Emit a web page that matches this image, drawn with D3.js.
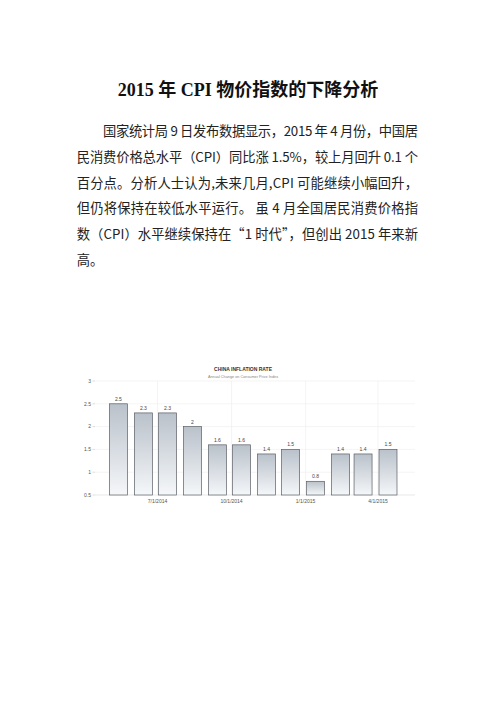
<!DOCTYPE html>
<html><head><meta charset="utf-8">
<script src="https://cdn.jsdelivr.net/npm/d3@7"></script>
<style>html,body{margin:0;padding:0;background:#fff;}svg{display:block;}</style>
</head><body>
<script>
const pageTitle = "2015 年 CPI 物价指数的下降分析";
const paragraphLines = [
  "国家统计局 9 日发布数据显示，2015 年 4 月份，中国居",
  "民消费价格总水平（CPI）同比涨 1.5%，较上月回升 0.1 个",
  "百分点。分析人士认为,未来几月,CPI 可能继续小幅回升，",
  "但仍将保持在较低水平运行。 虽 4 月全国居民消费价格指",
  "数（CPI）水平继续保持在“1 时代”，但创出 2015 年来新",
  "高。"
];
const chartTitle = "CHINA INFLATION RATE";
const chartSubtitle = "Annual Change on Consumer Price Index";
const months = ["2014-05","2014-06","2014-07","2014-08","2014-09","2014-10","2014-11","2014-12","2015-01","2015-02","2015-03","2015-04"];
const values = [2.5, 2.3, 2.3, 2.0, 1.6, 1.6, 1.4, 1.5, 0.8, 1.4, 1.4, 1.5];
const yTicks = [0.5, 1, 1.5, 2, 2.5, 3];
const xTickDates = ["2014-07-01","2014-10-01","2015-01-01","2015-04-01"];
const xTickLabels = ["7/1/2014","10/1/2014","1/1/2015","4/1/2015"];

const W = 496, H = 702;
const svg = d3.select("body").append("svg").attr("width", W).attr("height", H);

// Document title
svg.append("text").attr("x", 248).attr("y", 96).attr("text-anchor", "middle")
  .attr("font-family", "'Liberation Serif','Noto Sans CJK SC',serif")
  .attr("font-weight", "bold").attr("font-size", 18).attr("fill", "#111")
  .text(pageTitle);

// Paragraph
const lineStarts = [103, 76.7, 76.7, 76.7, 76.7, 76.7];
paragraphLines.forEach((t, i) => {
  const el = svg.append("text").attr("x", lineStarts[i]).attr("y", 136 + i * 25.8)
    .attr("font-family", "'Noto Sans CJK SC','Liberation Serif',sans-serif")
    .attr("font-size", 13.3).attr("fill", "#222").text(t);
  if (i < paragraphLines.length - 1) {
    el.attr("textLength", 418 - lineStarts[i]).attr("lengthAdjust", "spacing");
  }
});

// Chart
const parse = d3.timeParse("%Y-%m");
const parseDay = d3.timeParse("%Y-%m-%d");
const x = d3.scaleTime()
  .domain([parseDay("2014-07-01"), parseDay("2015-04-01")])
  .range([157.5, 378]);
const y = d3.scaleLinear().domain([0.5, 3]).range([495, 381]);
const plotL = 95, plotR = 415;
const cf = "'Liberation Sans',Arial,sans-serif";

const defs = svg.append("defs");
const grad = defs.append("linearGradient").attr("id", "barGrad")
  .attr("x1", 0).attr("y1", 0).attr("x2", 0).attr("y2", 1);
grad.append("stop").attr("offset", "0%").attr("stop-color", "#b9c1ca");
grad.append("stop").attr("offset", "100%").attr("stop-color", "#f5f7f9");

const g = svg.append("g");

// horizontal grid
g.selectAll(".hg").data(yTicks).join("line")
  .attr("x1", plotL).attr("x2", plotR)
  .attr("y1", d => y(d)).attr("y2", d => y(d))
  .attr("stroke", d => d === 0.5 ? "#d8d8d8" : "#ececec").attr("stroke-width", 0.6);
// vertical grid
g.selectAll(".vg").data(xTickDates).join("line")
  .attr("x1", d => x(parseDay(d))).attr("x2", d => x(parseDay(d)))
  .attr("y1", y(3)).attr("y2", y(0.5))
  .attr("stroke", "#ececec").attr("stroke-width", 0.6);

// y tick marks and labels
g.selectAll(".yt").data(yTicks).join("line")
  .attr("x1", 92.5).attr("x2", 95).attr("y1", d => y(d)).attr("y2", d => y(d))
  .attr("stroke", "#bbb").attr("stroke-width", 0.5);
g.selectAll(".yl").data(yTicks).join("text")
  .attr("x", 91).attr("y", d => y(d) + 1.8).attr("text-anchor", "end")
  .attr("font-family", cf).attr("font-size", 5).attr("fill", "#555")
  .text(d => d);

// x labels
g.selectAll(".xl").data(xTickDates).join("text")
  .attr("x", d => x(parseDay(d))).attr("y", 502.5).attr("text-anchor", "middle")
  .attr("font-family", cf).attr("font-size", 5).attr("fill", "#555")
  .text((d, i) => xTickLabels[i]);

// bars
const data = months.map((m, i) => ({date: parse(m), v: values[i]}));
g.selectAll(".bar").data(data).join("rect")
  .attr("x", d => x(d.date) + 1).attr("width", 18)
  .attr("y", d => y(d.v)).attr("height", d => y(0.5) - y(d.v))
  .attr("fill", "url(#barGrad)").attr("stroke", "#5a5f66").attr("stroke-width", 0.7);

// value labels
g.selectAll(".vl").data(data).join("text")
  .attr("x", d => x(d.date) + 10).attr("y", d => y(d.v) - 3)
  .attr("text-anchor", "middle").attr("font-family", cf).attr("font-size", 5)
  .attr("fill", "#444").text(d => d3.format("")(d.v));

// chart title
svg.append("text").attr("x", 243).attr("y", 371).attr("text-anchor", "middle")
  .attr("font-family", cf).attr("font-weight", "bold").attr("font-size", 5)
  .attr("fill", "#333").text(chartTitle);
svg.append("text").attr("x", 243).attr("y", 377.5).attr("text-anchor", "middle")
  .attr("font-family", cf).attr("font-size", 3.8)
  .attr("fill", "#888").text(chartSubtitle);
</script>
</body></html>
